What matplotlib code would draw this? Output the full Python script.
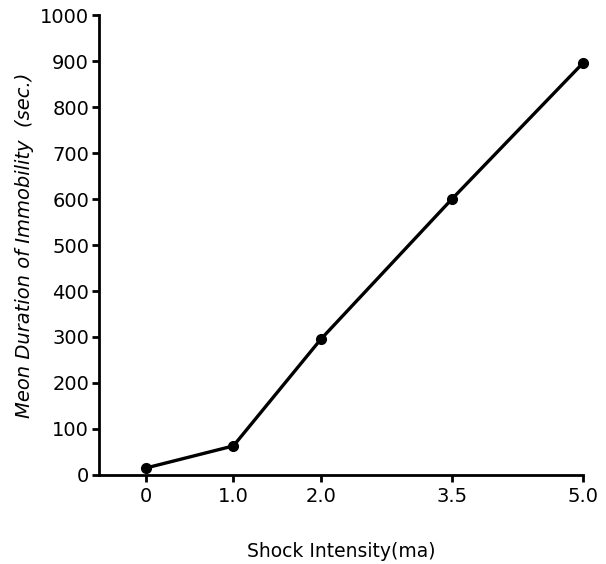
import matplotlib
matplotlib.use("Agg")
import matplotlib.pyplot as plt

shock = [0, 1.0, 2.0, 3.5, 5.0]
immobility = [15, 63, 295, 600, 896]
xtick_vals = [0, 1.0, 2.0, 3.5, 5.0]
xtick_labels = ["0", "1.0", "2.0", "3.5", "5.0"]
ytick_vals = list(range(0, 1001, 100))

plt.rcParams['font.family'] = ['DejaVu Sans']
fig = plt.figure(figsize=(6.06, 5.64), dpi=100)
ax = fig.add_axes([0.163, 0.158, 0.799, 0.815])
ax.plot(shock, immobility, color='black', lw=2.4, marker='o', ms=7, zorder=3, clip_on=False)
ax.set_xlim(-0.54, 5.0)
ax.set_ylim(0, 1000)
ax.set_xticks(xtick_vals)
ax.set_xticklabels(xtick_labels)
ax.set_yticks(ytick_vals)
for s in ['top', 'right']:
    ax.spines[s].set_visible(False)
for s in ['left', 'bottom']:
    ax.spines[s].set_linewidth(2)
ax.tick_params(axis='both', direction='out', length=5, width=2, labelsize=14, colors='black')
ax.tick_params(axis='y', pad=2)
ax.tick_params(axis='x', pad=4)
ax.set_xlabel("Shock Intensity(ma)", fontsize=13.5, labelpad=26)
ax.set_ylabel("Meon Duration of Immobility  (sec.)", fontsize=14, style='italic', labelpad=4)
fig.savefig("out.png", dpi=100)
